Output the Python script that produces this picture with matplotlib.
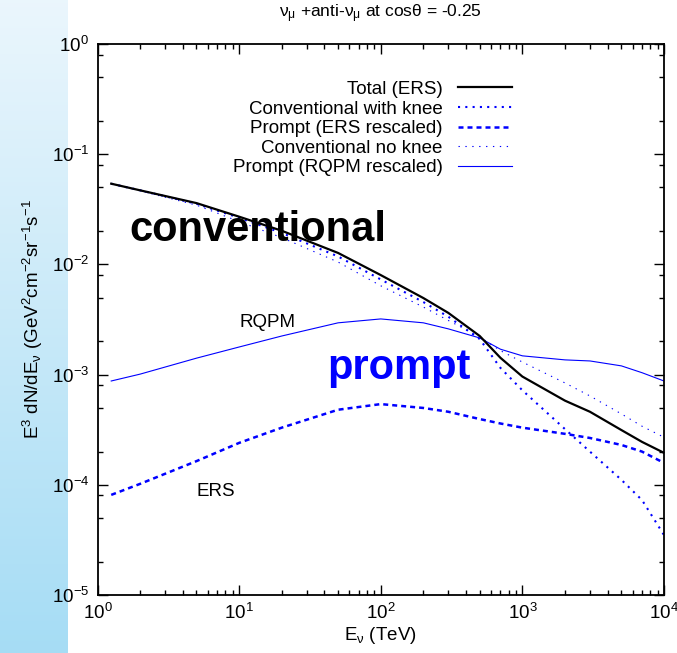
import numpy as np
import matplotlib
matplotlib.use("Agg")
import matplotlib.pyplot as plt
from matplotlib.ticker import LogLocator, NullFormatter

plt.rcParams['font.family'] = ['Liberation Sans', 'DejaVu Sans']
plt.rcParams['mathtext.fontset'] = 'custom'
plt.rcParams['mathtext.rm'] = 'Liberation Sans'
plt.rcParams['mathtext.it'] = 'Liberation Sans:italic'
plt.rcParams['mathtext.default'] = 'regular'

# energies (TeV)
energy = [1.25, 2, 5, 10, 20, 50, 100, 200, 300, 500, 700, 1000, 2000, 3000, 5000, 7000, 10000]

# E^3 dN/dE (GeV^2 cm^-2 sr^-1 s^-1)
total_ers = [0.054, 0.047, 0.036, 0.0271, 0.0202, 0.0127, 0.0080, 0.00495, 0.00363, 0.00224,
             0.00142, 0.00096, 0.00058, 0.00046, 0.000314, 0.000245, 0.000195]
conv_knee = [0.054, 0.047, 0.0355, 0.0265, 0.0193, 0.0118, 0.0073, 0.00455, 0.00335, 0.0021,
             0.00115, 0.00072, 0.00032, 0.0002, 0.000111, 0.0000726, 0.000035]
prompt_ers = [8.1e-5, 1.02e-4, 1.64e-4, 2.4e-4, 3.3e-4, 4.8e-4, 5.4e-4, 4.98e-4, 4.6e-4, 3.95e-4,
              3.6e-4, 3.3e-4, 2.9e-4, 2.66e-4, 2.3e-4, 2.0e-4, 1.58e-4]
conv_noknee = [0.054, 0.0465, 0.0345, 0.0245, 0.0175, 0.0105, 0.0064, 0.0041, 0.0031, 0.0022,
               0.00165, 0.0013, 0.00084, 0.00064, 0.00044, 0.00034, 0.00027]
prompt_rqpm = [8.75e-4, 1.01e-3, 1.41e-3, 1.78e-3, 2.24e-3, 2.95e-3, 3.2e-3, 2.95e-3, 2.6e-3, 2.15e-3,
               1.7e-3, 1.48e-3, 1.36e-3, 1.33e-3, 1.2e-3, 1.04e-3, 8.75e-4]

labels = ['Total (ERS)', 'Conventional with knee', 'Prompt (ERS rescaled)',
          'Conventional no knee', 'Prompt (RQPM rescaled)']

W, H = 677, 653
fig = plt.figure(figsize=(W / 100, H / 100), dpi=100)

# light blue strip on the left
bg = fig.add_axes([0, 0, 68 / W, 1], zorder=-10)
grad = np.linspace(0, 1, 256).reshape(-1, 1)
top = np.array([0.92, 0.965, 0.99])
bot = np.array([0.65, 0.865, 0.96])
img = top[None, None, :] * (1 - grad[:, :, None]) + bot[None, None, :] * grad[:, :, None]
bg.imshow(img, aspect='auto', extent=[0, 1, 0, 1])
bg.axis('off')

ax = fig.add_axes([97.5 / W, 1 - 595 / H, (664 - 97.5) / W, (595 - 44) / H])

ax.plot(energy, total_ers, color='black', lw=1.6, label=labels[0], zorder=5)
ax.plot(energy, conv_knee, color='#0000ff', lw=1.5, linestyle=(0, (1, 2.5)), label=labels[1])
ax.plot(energy, prompt_ers, color='#0000ff', lw=1.8, linestyle=(0, (2, 1.6)), label=labels[2])
ax.plot(energy, conv_noknee, color='#0000ff', lw=0.8, linestyle=(0, (1.2, 5)), label=labels[3])
ax.plot(energy, prompt_rqpm, color='#0000ff', lw=0.8, label=labels[4])

ax.set_xscale('log')
ax.set_yscale('log')
ax.set_xlim(1, 1e4)
ax.set_ylim(1e-5, 1)

ax.xaxis.set_minor_locator(LogLocator(base=10, subs=np.arange(2, 10), numticks=20))
ax.yaxis.set_minor_locator(LogLocator(base=10, subs=[2, 5, 8], numticks=20))
ax.xaxis.set_minor_formatter(NullFormatter())
ax.yaxis.set_minor_formatter(NullFormatter())
ax.tick_params(which='both', direction='in', top=True, right=True, labelsize=13.5, width=1)
ax.tick_params(which='major', length=7, pad=6)
ax.tick_params(which='minor', length=3.5)
for s in ax.spines.values():
    s.set_linewidth(1.3)

ax.set_xlabel(r'E$_{ν}$ (TeV)', fontsize=13.5, va='center')
ax.xaxis.set_label_coords(0.5, -0.073)
ax.set_ylabel(r'E$^{3}$ dN/dE$_{ν}$ (GeV$^{2}$cm$^{-2}$sr$^{-1}$s$^{-1}$', fontsize=13.5, va='center')
ax.yaxis.set_label_coords(-0.114, 0.5)

fig.text(0.5625, 1 - 14 / H, r'ν$_{μ}$ +anti-ν$_{μ}$ at cosθ = -0.25', ha='center', va='center', fontsize=12.5)

ax.text(1.68, 10 ** -1.69, 'conventional', fontsize=30, fontweight='bold', color='black', va='center', ha='left')
ax.text(42, 10 ** -2.94, 'prompt', fontsize=30, fontweight='bold', color='#0000ff', va='center', ha='left')
ax.text(10.1, 10 ** -2.53, 'RQPM', fontsize=13.5, va='center', ha='left')
ax.text(5.0, 10 ** -4.065, 'ERS', fontsize=13.5, va='center', ha='left')

ax.legend(loc='upper right', bbox_to_anchor=(0.732, 0.933), frameon=False, markerfirst=False,
          fontsize=13.5, handlelength=2.9, handletextpad=0.8, labelspacing=0.13,
          borderpad=0, borderaxespad=0)

fig.savefig('out.png', dpi=100)
